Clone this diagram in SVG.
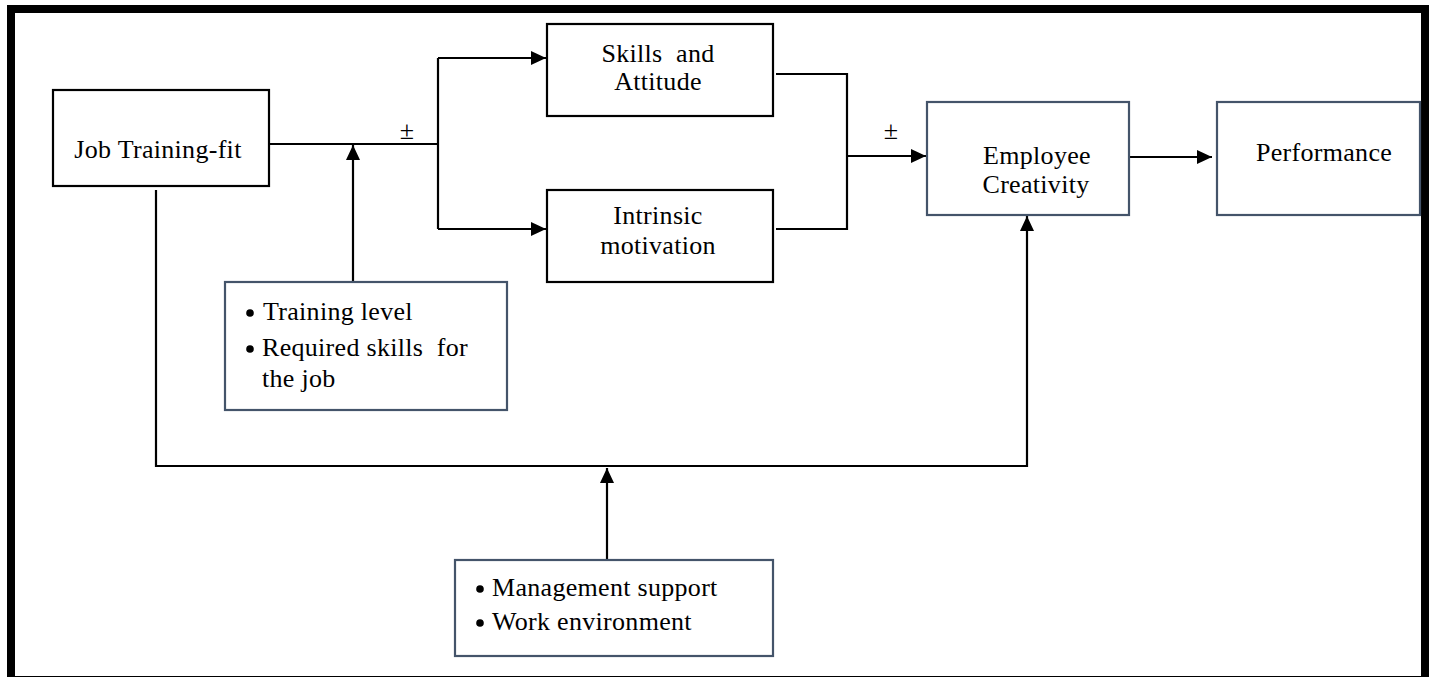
<svg xmlns="http://www.w3.org/2000/svg" width="1432" height="677" viewBox="0 0 1432 677">
<style>
.t{font-family:'Liberation Serif','Times New Roman','DejaVu Serif',Times,serif;font-size:26px;letter-spacing:0.3px;fill:#000}
.c{text-anchor:middle}
.pm{font-family:'Liberation Serif','Times New Roman','DejaVu Serif',Times,serif;font-size:26px;fill:#000;text-anchor:middle}
.bk{fill:#fff;stroke:#000;stroke-width:2.2}
.sl{fill:#fff;stroke:#44546a;stroke-width:2.2}
.ln{fill:none;stroke:#000;stroke-width:2.2}
.dot{fill:#000}
</style>
<defs>
<marker id="ah" markerUnits="userSpaceOnUse" markerWidth="16" markerHeight="14" refX="15" refY="7" orient="auto">
<path d="M0,0 L15,7 L0,14 z" fill="#000"/>
</marker>
</defs>
<rect x="0" y="0" width="1432" height="677" fill="#fff"/>
<rect id="frame" x="11" y="9" width="1414" height="671" fill="none" stroke="#000" stroke-width="8"/>
<g id="connectors">
<path class="ln" d="M269,144 H438"/>
<path class="ln" d="M438,58 V229"/>
<path class="ln" d="M438,58 H546" marker-end="url(#ah)"/>
<path class="ln" d="M438,229 H546" marker-end="url(#ah)"/>
<path class="ln" d="M353,282 V145" marker-end="url(#ah)"/>
<path class="ln" d="M776,74 H847 V229 H776"/>
<path class="ln" d="M847,156 H926" marker-end="url(#ah)"/>
<path class="ln" d="M1129,157 H1212" marker-end="url(#ah)"/>
<path class="ln" d="M156,190 V466 H1027 V216" marker-end="url(#ah)"/>
<path class="ln" d="M607,560 V468" marker-end="url(#ah)"/>
<text class="pm" x="407" y="139">±</text>
<text class="pm" x="891" y="139">±</text>
</g>
<g id="job">
<rect class="bk" x="53" y="90" width="216" height="96"/>
<text class="t c" x="158" y="158">Job Training-fit</text>
</g>
<g id="skills">
<rect class="bk" x="547" y="24" width="226" height="92"/>
<text class="t c" x="658" y="62">Skills&#160; and</text>
<text class="t c" x="658" y="90">Attitude</text>
</g>
<g id="intrinsic">
<rect class="bk" x="547" y="190" width="226" height="92"/>
<text class="t c" x="658" y="224">Intrinsic</text>
<text class="t c" x="658" y="254">motivation</text>
</g>
<g id="creativity">
<rect class="sl" x="927" y="102" width="202" height="113"/>
<text class="t c" x="1037" y="164">Employee</text>
<text class="t c" x="1036" y="193">Creativity</text>
</g>
<g id="performance">
<rect class="sl" x="1217" y="102" width="203" height="113"/>
<text class="t c" x="1324" y="161">Performance</text>
</g>
<g id="training">
<rect class="sl" x="225" y="282" width="282" height="128"/>
<circle class="dot" cx="250" cy="313" r="3.8"/>
<circle class="dot" cx="250" cy="349" r="3.8"/>
<text class="t" x="263" y="320">Training level</text>
<text class="t" x="262" y="356">Required skills&#160; for</text>
<text class="t" x="262" y="387">the job</text>
</g>
<g id="management">
<rect class="sl" x="455" y="560" width="318" height="96"/>
<circle class="dot" cx="480" cy="589" r="3.8"/>
<circle class="dot" cx="480" cy="623" r="3.8"/>
<text class="t" x="492" y="596">Management support</text>
<text class="t" x="492" y="630">Work environment</text>
</g>
</svg>
